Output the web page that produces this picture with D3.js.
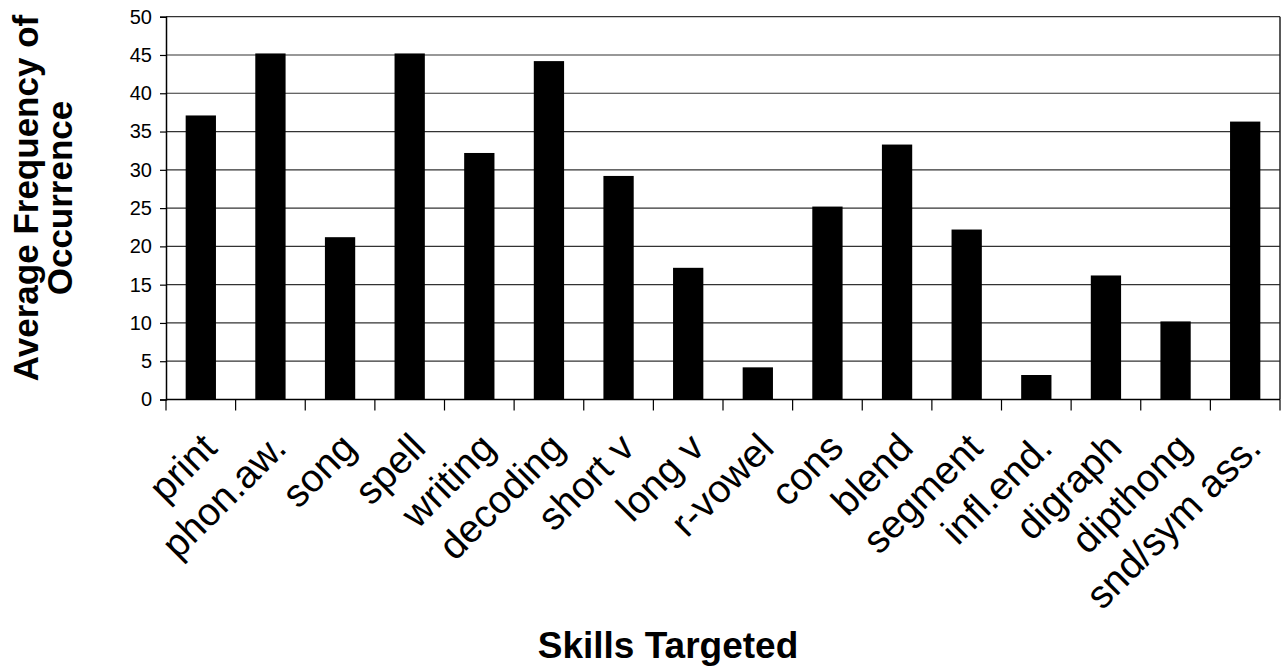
<!DOCTYPE html>
<html>
<head>
<meta charset="utf-8">
<script src="https://cdn.jsdelivr.net/npm/d3@7/dist/d3.min.js"></script>
<style>
  html, body { margin: 0; padding: 0; background: #fff; }
  svg { display: block; font-family: Arial, "Liberation Sans", sans-serif; }
</style>
</head>
<body>
<svg id="chart" width="1285" height="669"></svg>
<script>
// Skill categories and their average frequency of occurrence
const skills = ["print", "phon.aw.", "song", "spell", "writing", "decoding", "short v",
  "long v", "r-vowel", "cons", "blend", "segment", "infl.end.", "digraph", "dipthong", "snd/sym ass."];
const frequency = [37.1, 45.2, 21.2, 45.2, 32.2, 44.2, 29.2, 17.2, 4.2, 25.2, 33.3, 22.2, 3.2, 16.2, 10.2, 36.3];
const yTicks = [0, 5, 10, 15, 20, 25, 30, 35, 40, 45, 50];
const yTitleLines = ["Average Frequency of", "Occurrence"];
const xTitle = "Skills Targeted";

const svg = d3.select("#chart");
const plot = { left: 166, right: 1280, top: 16.7, bottom: 399.5 };

const x = d3.scaleBand().domain(skills).range([plot.left, plot.right]).paddingInner(0.565).paddingOuter(0.2825);
const xCat = d3.scaleBand().domain(skills).range([plot.left, plot.right]);
const y = d3.scaleLinear().domain([0, 50]).range([plot.bottom, plot.top]);

// horizontal gridlines
svg.append("g").selectAll("line").data(yTicks.filter(d => d > 0)).join("line")
  .attr("x1", plot.left).attr("x2", plot.right)
  .attr("y1", d => y(d)).attr("y2", d => y(d))
  .attr("stroke", "#333").attr("stroke-width", 1.2);

// right border of plot area
svg.append("line")
  .attr("x1", plot.right).attr("x2", plot.right)
  .attr("y1", plot.top).attr("y2", plot.bottom)
  .attr("stroke", "#222").attr("stroke-width", 1.5);

// bars
svg.append("g").selectAll("rect").data(skills).join("rect")
  .attr("x", d => x(d))
  .attr("width", x.bandwidth())
  .attr("y", (d, i) => y(frequency[i]))
  .attr("height", (d, i) => plot.bottom - y(frequency[i]))
  .attr("fill", "#000");

// y axis
const yAxis = svg.append("g")
  .attr("transform", `translate(${plot.left},0)`)
  .call(d3.axisLeft(y).tickValues(yTicks).tickSize(6).tickPadding(8).tickFormat(d3.format("d")));
yAxis.select(".domain").attr("stroke", "#000").attr("stroke-width", 1.5);
yAxis.selectAll(".tick line").attr("stroke", "#000").attr("stroke-width", 1.2);
yAxis.selectAll(".tick text").attr("font-size", 20).attr("fill", "#000");

// x axis with ticks at category boundaries
const boundaries = d3.range(skills.length + 1).map(i => plot.left + i * xCat.step());
svg.append("line")
  .attr("x1", plot.left).attr("x2", plot.right)
  .attr("y1", plot.bottom).attr("y2", plot.bottom)
  .attr("stroke", "#000").attr("stroke-width", 1.5);
svg.append("g").selectAll("line").data(boundaries).join("line")
  .attr("x1", d => d).attr("x2", d => d)
  .attr("y1", plot.bottom).attr("y2", plot.bottom + 11)
  .attr("stroke", "#000").attr("stroke-width", 1.2);

// rotated category labels
svg.append("g").selectAll("text").data(skills).join("text")
  .attr("transform", d => `translate(${xCat(d) + xCat.bandwidth() / 2 + 18},450) rotate(-45)`)
  .attr("text-anchor", "end")
  .attr("font-size", 39)
  .attr("fill", "#000")
  .text(d => d);

// axis titles
svg.append("text")
  .attr("x", 668).attr("y", 658)
  .attr("text-anchor", "middle")
  .attr("font-size", 37).attr("font-weight", "bold")
  .text(xTitle);

svg.append("g").selectAll("text").data(yTitleLines).join("text")
  .attr("transform", (d, i) => `translate(${38 + i * 34},198) rotate(-90)`)
  .attr("text-anchor", "middle")
  .attr("font-size", 35).attr("font-weight", "bold")
  .text(d => d);
</script>
</body>
</html>
